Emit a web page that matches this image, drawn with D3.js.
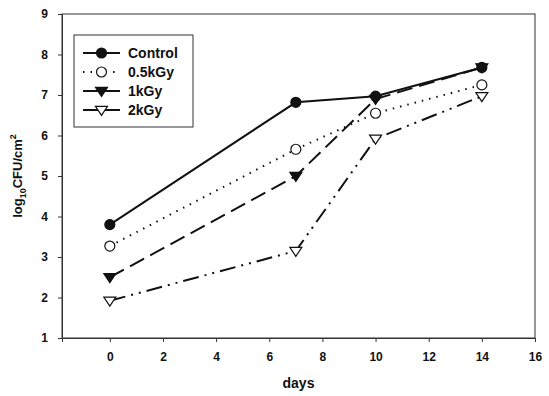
<!DOCTYPE html>
<html>
<head>
<meta charset="utf-8">
<script src="https://cdn.jsdelivr.net/npm/d3@7"></script>
<style>
  body { margin: 0; background: #fff; }
  text { font-family: "Liberation Sans", Arial, sans-serif; font-weight: bold; fill: #111; }
</style>
</head>
<body>
<svg id="chart" width="549" height="396"></svg>
<script>
const days = [0, 7, 10, 14];
const control = [3.8, 6.82, 6.97, 7.68];
const kGy05 = [3.27, 5.66, 6.55, 7.25];
const kGy1 = [2.5, 5.0, 6.9, 7.68];
const kGy2 = [1.92, 3.15, 5.92, 6.97];
const xTicks = [0, 2, 4, 6, 8, 10, 12, 14, 16];
const yTicks = [1, 2, 3, 4, 5, 6, 7, 8, 9];
const seriesNames = ["Control", "0.5kGy", "1kGy", "2kGy"];

const series = [
  {name: seriesNames[0], values: control, dash: null, symbol: "circle", fill: "#111"},
  {name: seriesNames[1], values: kGy05, dash: "1.5,6", symbol: "circle", fill: "#fff"},
  {name: seriesNames[2], values: kGy1, dash: "16,7", symbol: "tri", fill: "#111"},
  {name: seriesNames[3], values: kGy2, dash: "16,6,2,6,2,6", symbol: "tri", fill: "#fff"}
];

const svg = d3.select("#chart");
const margin = {left: 62, right: 14, top: 14, bottom: 58};
const W = 549, H = 396;

const x = d3.scaleLinear().domain([-1.8, 16]).range([margin.left, W - margin.right]);
const y = d3.scaleLinear().domain([1, 9]).range([H - margin.bottom, margin.top]);

// frame
svg.append("rect")
  .attr("x", x(-1.8)).attr("y", y(9))
  .attr("width", x(16) - x(-1.8)).attr("height", y(1) - y(9))
  .attr("fill", "none").attr("stroke", "#333").attr("stroke-width", 1);

const xAxis = svg.append("g")
  .attr("transform", `translate(0,${y(1)})`)
  .call(d3.axisBottom(x).tickValues(xTicks).tickSize(4).tickPadding(10));
const yAxis = svg.append("g")
  .attr("transform", `translate(${x(-1.8)},0)`)
  .call(d3.axisLeft(y).tickValues(yTicks).tickSize(4).tickPadding(10));

[xAxis, yAxis].forEach(g => {
  g.select(".domain").attr("stroke", "#333");
  g.selectAll(".tick line").attr("stroke", "#333");
  g.selectAll(".tick text").style("font-size", "12px").attr("fill", "#111");
});

svg.append("text")
  .attr("x", (x(-1.8) + x(16)) / 2).attr("y", 388)
  .attr("text-anchor", "middle").style("font-size", "14px").text("days");

const yt = svg.append("text")
  .attr("transform", `translate(22,${(y(1) + y(9)) / 2}) rotate(-90)`)
  .attr("text-anchor", "middle").style("font-size", "13px");
yt.append("tspan").text("log");
yt.append("tspan").attr("dy", 4).style("font-size", "9px").text("10");
yt.append("tspan").attr("dy", -4).text("CFU/cm");
yt.append("tspan").attr("dy", -6).style("font-size", "9px").text("2");

const line = d3.line().x((d, i) => x(days[i])).y(d => y(d));

function marker(g, s, cx, cy) {
  if (s.symbol === "circle") {
    g.append("circle").attr("cx", cx).attr("cy", cy).attr("r", 5)
      .attr("fill", s.fill).attr("stroke", "#111").attr("stroke-width", 1.2);
  } else {
    const r = 6;
    g.append("path")
      .attr("d", `M${cx - r},${cy - r * 0.6}L${cx + r},${cy - r * 0.6}L${cx},${cy + r * 0.9}Z`)
      .attr("fill", s.fill).attr("stroke", "#111").attr("stroke-width", 1.2);
  }
}

series.forEach(s => {
  svg.append("path")
    .attr("d", line(s.values))
    .attr("fill", "none").attr("stroke", "#111").attr("stroke-width", 2)
    .attr("stroke-dasharray", s.dash);
});
series.forEach(s => {
  const g = svg.append("g");
  s.values.forEach((v, i) => marker(g, s, x(days[i]), y(v)));
});

// legend
const lg = svg.append("g");
lg.append("rect").attr("x", 74).attr("y", 35).attr("width", 119).attr("height", 92)
  .attr("fill", "#fff").attr("stroke", "#333").attr("stroke-width", 1);
series.forEach((s, i) => {
  const ly = 53 + i * 19;
  lg.append("line").attr("x1", 83).attr("x2", 120).attr("y1", ly).attr("y2", ly)
    .attr("stroke", "#111").attr("stroke-width", 2)
    .attr("stroke-dasharray", i === 1 ? "1.5,6" : null);
  marker(lg, s, 101.5, ly);
  lg.append("text").attr("x", 128).attr("y", ly + 5).style("font-size", "14px").text(s.name);
});
</script>
</body>
</html>
